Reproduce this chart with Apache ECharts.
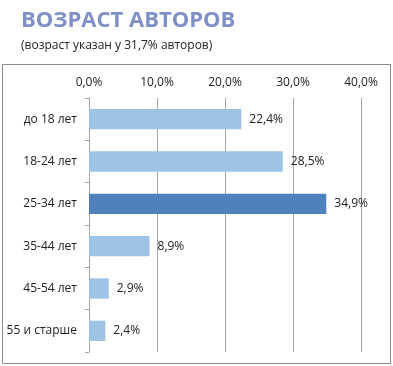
<!DOCTYPE html>
<html><head><meta charset="utf-8">
<script src="https://cdn.jsdelivr.net/npm/echarts@6/dist/echarts.min.js"></script>
<style>html,body{margin:0;padding:0;background:#fff}#c{width:393px;height:366px}</style>
</head><body><div id="c"></div>
<script>
const categories = ['до 18 лет','18-24 лет','25-34 лет','35-44 лет','45-54 лет','55 и старше'];
const values = [22.4, 28.5, 34.9, 8.9, 2.9, 2.4];
const highlightIndex = 2;
const titleText = 'ВОЗРАСТ АВТОРОВ';
const subtitleText = '(возраст указан у 31,7% авторов)';
const fmt = v => v.toFixed(1).replace('.', ',') + '%';
const chart = echarts.init(document.getElementById('c'), null, {renderer:'canvas'});
chart.setOption({
  animation:false,
  title:{text:titleText, subtext:subtitleText, left:16, top:5, itemGap:8,
    textStyle:{fontFamily:'Open Sans', fontSize:22, fontWeight:'bold', color:'#7F90C9'},
    subtextStyle:{fontFamily:'Open Sans', fontSize:12, color:'#222'}},
  graphic:[{type:'rect', shape:{x:2.5,y:64.5,width:388,height:299}, style:{fill:'none', stroke:'#8c8c8c', lineWidth:1}, z:-1}],
  grid:{left:89, right:32, top:98, bottom:14},
  xAxis:{type:'value', position:'top', min:0, max:40, interval:10,
    axisLabel:{formatter:fmt, fontFamily:'Open Sans', fontSize:12, color:'#222', margin:9},
    axisLine:{show:false}, axisTick:{show:false},
    splitLine:{lineStyle:{color:'#a6a6a6'}}},
  yAxis:{type:'category', data:categories, inverse:true,
    axisLine:{lineStyle:{color:'#a6a6a6'}}, axisTick:{show:true, length:4, lineStyle:{color:'#a6a6a6'}},
    axisLabel:{fontFamily:'Open Sans', fontSize:12, color:'#222', margin:12}},
  series:[{type:'bar', barWidth:'48%',
    data: values.map((v,i)=>({value:v, itemStyle:{color: i===highlightIndex ? '#4F81BD' : '#9DC3E6'}})),
    label:{show:true, position:'right', distance:8, formatter:p=>fmt(p.value), fontFamily:'Open Sans', fontSize:12, color:'#222'}}]
});
</script></body></html>
